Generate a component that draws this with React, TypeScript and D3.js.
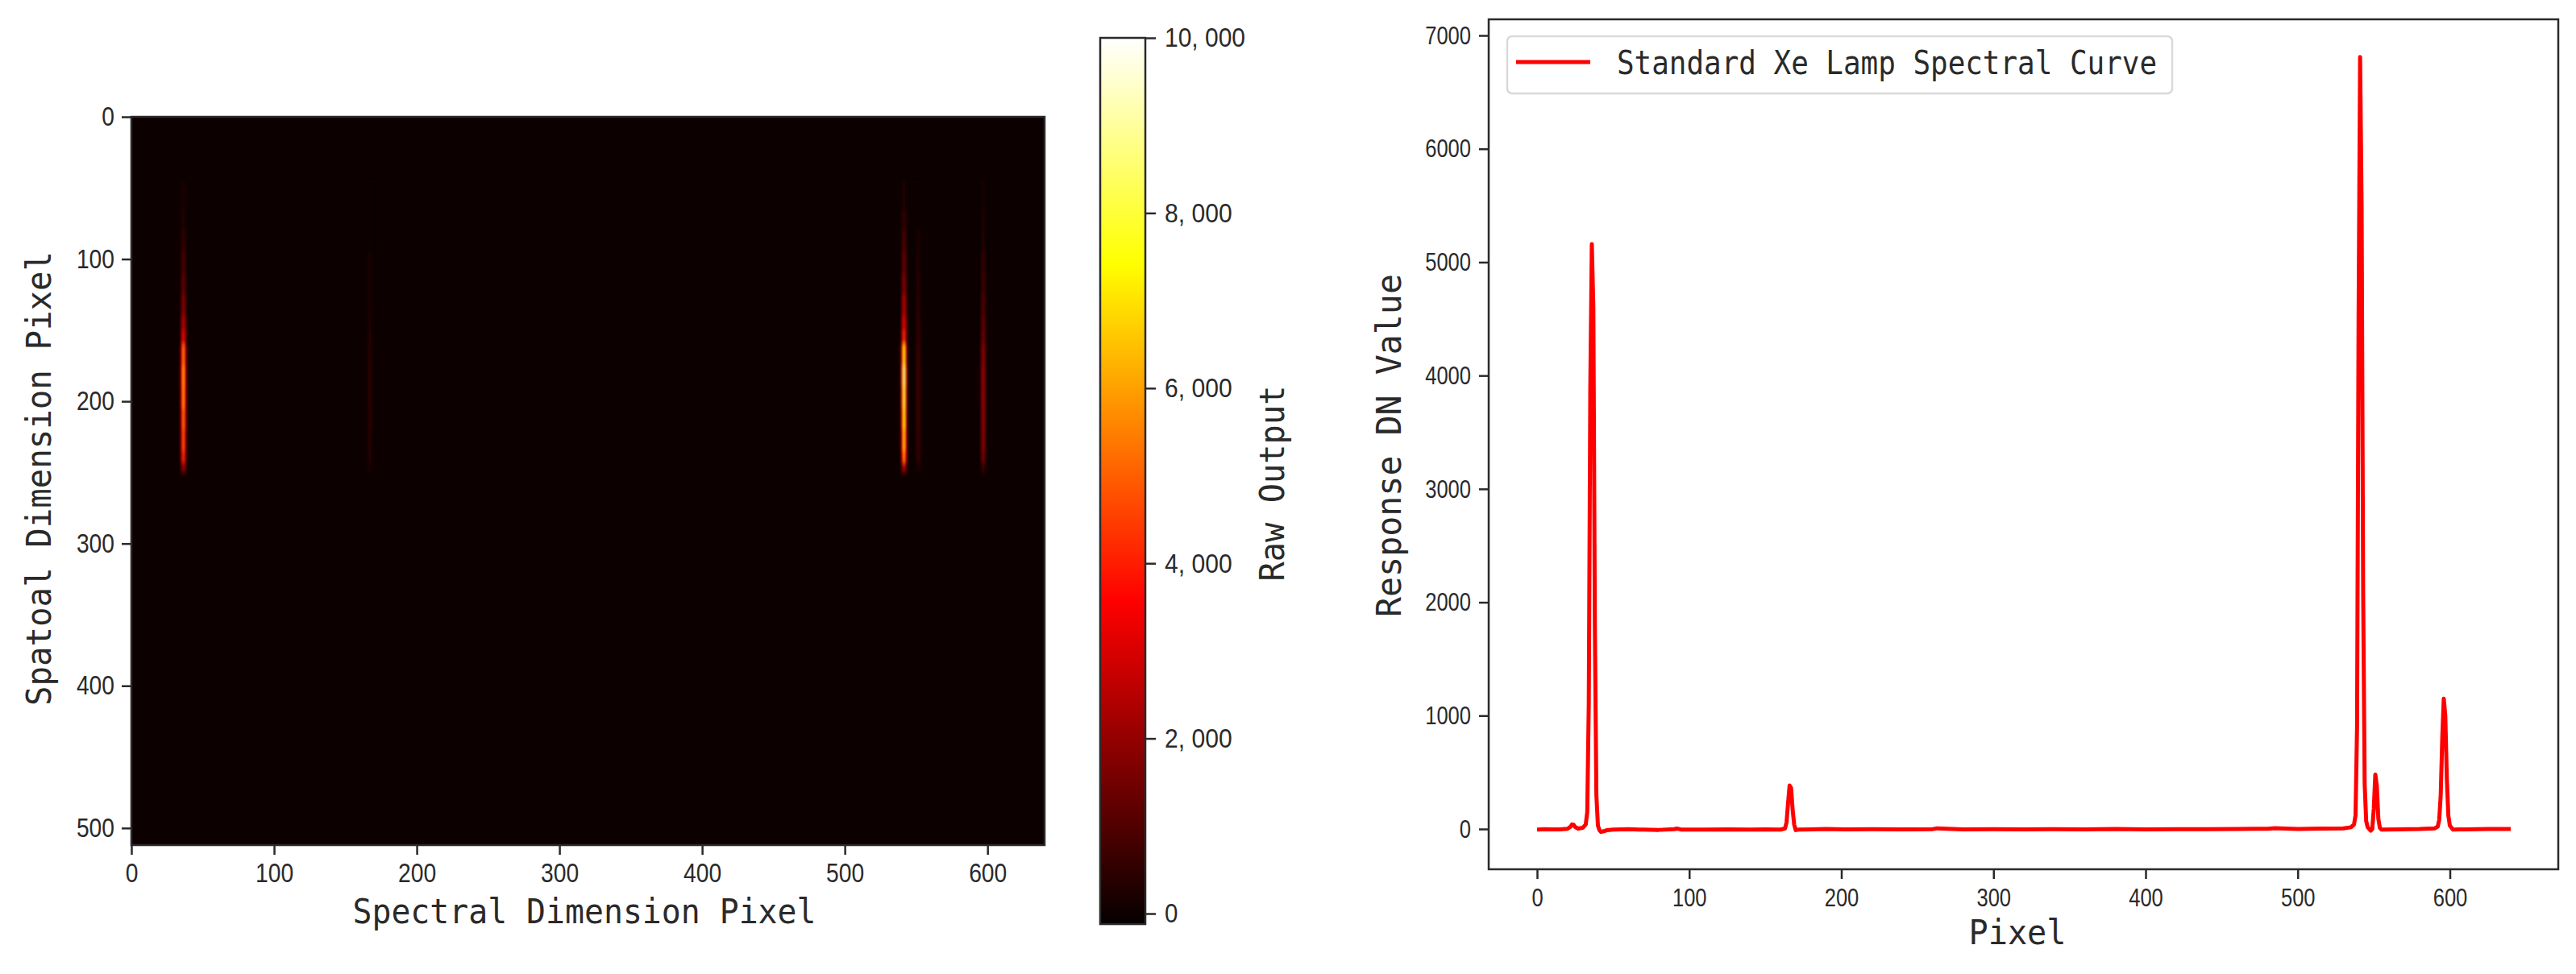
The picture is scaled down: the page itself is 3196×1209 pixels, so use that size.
import { useRef, useEffect } from 'react';
import * as d3 from 'd3';

// spatial rows where the band values below change
const rowEdges = [45, 65, 80, 95, 110, 125, 140, 150, 160, 175, 190, 205, 220, 235, 243, 250];

const streak36 = [200, 350, 600, 1000, 1300, 1900, 2700, 3500, 5600, 6200, 6000, 5400, 5000, 4300, 2200];
const streak167 = [0, 0, 60, 120, 180, 240, 300, 360, 450, 500, 500, 460, 420, 360, 140];
const streak541 = [300, 600, 1000, 1400, 1800, 2600, 3400, 4200, 7400, 8800, 8200, 7500, 6800, 5800, 2600];
const streak551 = [0, 120, 220, 320, 400, 500, 580, 640, 750, 820, 820, 760, 700, 620, 260];
const streak596 = [120, 240, 400, 600, 800, 1050, 1300, 1500, 1950, 2150, 2150, 2050, 1950, 1650, 700];

const streakColumns = [36.5, 167, 541.5, 551.5, 597];
const streakValues = [streak36, streak167, streak541, streak551, streak596];
const columnOffsets = [-3, -2, -1, 0, 1, 2, 3];
const columnWeights = [0.03, 0.15, 0.6, 1, 0.6, 0.15, 0.03];

const colorStops = [-120, 3570, 7430, 10000];
const colorNames = ['#050000', '#ff0000', '#ffff00', '#ffffff'];

const heatXTicks = [0, 100, 200, 300, 400, 500, 600];
const heatYTicks = [0, 100, 200, 300, 400, 500];
const barTicks = [0, 2000, 4000, 6000, 8000, 10000];
const lineXTicks = [0, 100, 200, 300, 400, 500, 600];
const lineYTicks = [0, 1000, 2000, 3000, 4000, 5000, 6000, 7000];

const spectrumPixels = [
  0, 5, 10, 15, 20, 22, 23, 24, 25, 27, 30, 32, 33, 34, 35, 36, 37, 38, 39, 40, 41, 42, 44, 46, 50,
  60, 70, 80, 90, 92, 95, 110, 125, 140, 150, 160, 163, 164, 165, 166, 167, 168, 169, 170, 172, 180,
  190, 205, 220, 240, 260, 263, 280, 300, 320, 340, 360, 380, 400, 420, 440, 460, 480, 485, 500, 515,
  530, 535, 537, 538, 539, 540, 541, 542, 543, 544, 545, 546, 548, 549, 550, 551, 552, 553, 554, 555,
  565, 580, 590, 592, 593, 594, 595, 596, 597, 598, 599, 600, 602, 610, 625, 640,
];
const spectrumValues = [
  -5, -2, -3, -3, 2, 20, 40, 38, 18, 4, 10, 40, 150, 1100, 3900, 5160, 4600, 1800, 300, 30, -10, -25, -20, -10, -5,
  -2, -6, -8, -2, 4, -6, -5, -3, -6, -4, -5, 5, 60, 230, 384, 360, 170, 40, -10, -5, -4,
  0, -4, -2, -3, -1, 6, -3, -1, -4, -2, -3, 0, -3, -1, -2, 0, 2, 7, 0, 3,
  5, 15, 40, 120, 900, 4500, 6810, 5500, 2100, 400, 70, 15, -15, 0, 180, 480, 380, 90, 10, -5,
  -3, 0, 5, 20, 80, 300, 800, 1150, 1000, 450, 120, 30, -5, -3, 0, 0,
];

const textColor = '#2a2a2a';
const sans = '"Liberation Sans", Arial, sans-serif';
const mono = '"DejaVu Sans Mono", monospace';

function App() {
  const ref = useRef<SVGSVGElement | null>(null);

  useEffect(() => {
    const svg = d3.select(ref.current);
    svg.selectAll('*').remove();

    const color = d3
      .scaleLinear<string>()
      .domain(colorStops)
      .range(colorNames)
      .clamp(true);

    const defs = svg.append('defs');
    defs.append('clipPath').attr('id', 'heat-clip').append('rect')
      .attr('x', 163).attr('y', 145).attr('width', 1133).attr('height', 904);
    defs.append('filter').attr('id', 'soft')
      .attr('x', '-5%').attr('y', '-5%').attr('width', '110%').attr('height', '110%')
      .append('feGaussianBlur').attr('stdDeviation', '0.9 3');

    const gradient = defs.append('linearGradient').attr('id', 'hot')
      .attr('x1', 0).attr('y1', 1).attr('x2', 0).attr('y2', 0);
    colorStops.forEach((v, i) => {
      gradient.append('stop')
        .attr('offset', (v - colorStops[0]) / (10000 - colorStops[0]))
        .attr('stop-color', colorNames[i]);
    });

    const styleTicks = (g: any, size: number, width: number) => {
      g.selectAll('.domain').remove();
      g.selectAll('.tick line').attr('stroke', textColor).attr('stroke-width', 2.5);
      g.selectAll('.tick text')
        .attr('font-family', sans)
        .attr('font-size', size)
        .attr('fill', textColor)
        .attr('textLength', function (this: any) {
          return this.textContent.replace(/[, ]/g, '').length * width;
        })
        .attr('lengthAdjust', 'spacingAndGlyphs');
    };

    const title = (x: number, y: number, text: string, length: number, rotate = false) => {
      svg.append('text')
        .attr('transform', `translate(${x},${y})${rotate ? ' rotate(-90)' : ''}`)
        .attr('text-anchor', 'middle')
        .attr('font-family', mono)
        .attr('font-size', 42)
        .attr('fill', textColor)
        .attr('textLength', length)
        .attr('lengthAdjust', 'spacingAndGlyphs')
        .text(text);
    };

    // Heatmap
    const heatX = d3.scaleLinear().domain([0, 640]).range([163, 1296]);
    const heatY = d3.scaleLinear().domain([0, 512]).range([145, 1049]);

    svg.append('rect')
      .attr('x', 163).attr('y', 145).attr('width', 1133).attr('height', 904)
      .attr('fill', color(0));

    const cells = svg.append('g').attr('clip-path', 'url(#heat-clip)')
      .append('g').attr('filter', 'url(#soft)');
    streakColumns.forEach((column, s) => {
      columnOffsets.forEach((offset, c) => {
        streakValues[s].forEach((value, r) => {
          cells.append('rect')
            .attr('x', heatX(column + offset - 0.5))
            .attr('y', heatY(rowEdges[r]))
            .attr('width', heatX(1) - heatX(0) + 0.4)
            .attr('height', heatY(rowEdges[r + 1]) - heatY(rowEdges[r]) + 0.4)
            .attr('fill', color(value * columnWeights[c]));
        });
      });
    });

    svg.append('rect')
      .attr('x', 163).attr('y', 145).attr('width', 1133).attr('height', 904)
      .attr('fill', 'none').attr('stroke', textColor).attr('stroke-width', 2.5);

    svg.append('g').attr('transform', 'translate(0,1049)')
      .call(d3.axisBottom(heatX).tickValues(heatXTicks).tickFormat(d3.format('d')).tickSize(12).tickPadding(11) as any)
      .call(styleTicks, 33, 15.7);
    svg.append('g').attr('transform', 'translate(163,0)')
      .call(d3.axisLeft(heatY).tickValues(heatYTicks).tickFormat(d3.format('d')).tickSize(12).tickPadding(9) as any)
      .call(styleTicks, 33, 15.7);

    title(725, 1146, 'Spectral Dimension Pixel', 575);
    title(63, 594, 'Spatoal Dimension Pixel', 564, true);

    // Colorbar
    const barY = d3.scaleLinear().domain([0, 10000]).range([1134, 47]);
    svg.append('rect')
      .attr('x', 1365).attr('y', barY(10000)).attr('width', 56).attr('height', barY(-120) - barY(10000))
      .attr('fill', 'url(#hot)')
      .attr('stroke', textColor).attr('stroke-width', 2.5);
    svg.append('g').attr('transform', 'translate(1421,0)')
      .call(d3.axisRight(barY).tickValues(barTicks).tickFormat((d: any) => d3.format(',')(d).replace(',', ', ')).tickSize(13).tickPadding(11) as any)
      .call(styleTicks, 34, 16.4)
      .selectAll('.tick text').attr('textLength', function (this: any) {
        const digits = this.textContent.replace(/[, ]/g, '').length;
        return digits > 1 ? digits * 16.4 + 18 : 16.4;
      });
    title(1593, 600, 'Raw Output', 243, true);

    // Spectrum
    const lineX = d3.scaleLinear().domain([0, 640]).range([1907, 3115]);
    const lineY = d3.scaleLinear().domain([0, 7000]).range([1029, 44]);

    svg.append('rect')
      .attr('x', 1847).attr('y', 24).attr('width', 1327).attr('height', 1055)
      .attr('fill', 'none').attr('stroke', textColor).attr('stroke-width', 2.5);

    const line = d3
      .line<number>()
      .x((_, i) => lineX(spectrumPixels[i]))
      .y(d => lineY(d));
    svg.append('path')
      .datum(spectrumValues)
      .attr('fill', 'none')
      .attr('stroke', '#ff0000')
      .attr('stroke-width', 5)
      .attr('stroke-linejoin', 'round')
      .attr('d', line as any);

    svg.append('g').attr('transform', 'translate(0,1079)')
      .call(d3.axisBottom(lineX).tickValues(lineXTicks).tickFormat(d3.format('d')).tickSize(12).tickPadding(11) as any)
      .call(styleTicks, 32, 14.2);
    svg.append('g').attr('transform', 'translate(1847,0)')
      .call(d3.axisLeft(lineY).tickValues(lineYTicks).tickFormat(d3.format('d')).tickSize(12).tickPadding(10) as any)
      .call(styleTicks, 32, 14.2);

    title(2503, 1172, 'Pixel', 121);
    title(1738, 553, 'Response DN Value', 426, true);

    // Legend
    svg.append('rect')
      .attr('x', 1870).attr('y', 45).attr('width', 825).attr('height', 71).attr('rx', 6)
      .attr('fill', '#fff').attr('stroke', '#d9d9d9').attr('stroke-width', 2.5);
    svg.append('line')
      .attr('x1', 1881).attr('x2', 1973).attr('y1', 77).attr('y2', 77)
      .attr('stroke', '#ff0000').attr('stroke-width', 5);
    svg.append('text')
      .attr('x', 2006).attr('y', 92)
      .attr('font-family', mono).attr('font-size', 40).attr('fill', textColor)
      .attr('textLength', 670).attr('lengthAdjust', 'spacingAndGlyphs')
      .text('Standard Xe Lamp Spectral Curve');
  }, []);

  return (
    <svg
      ref={ref}
      width={3196}
      height={1209}
      style={{ position: 'absolute', left: 0, top: 0, background: '#fff' }}
    ></svg>
  );
}

export default App;
